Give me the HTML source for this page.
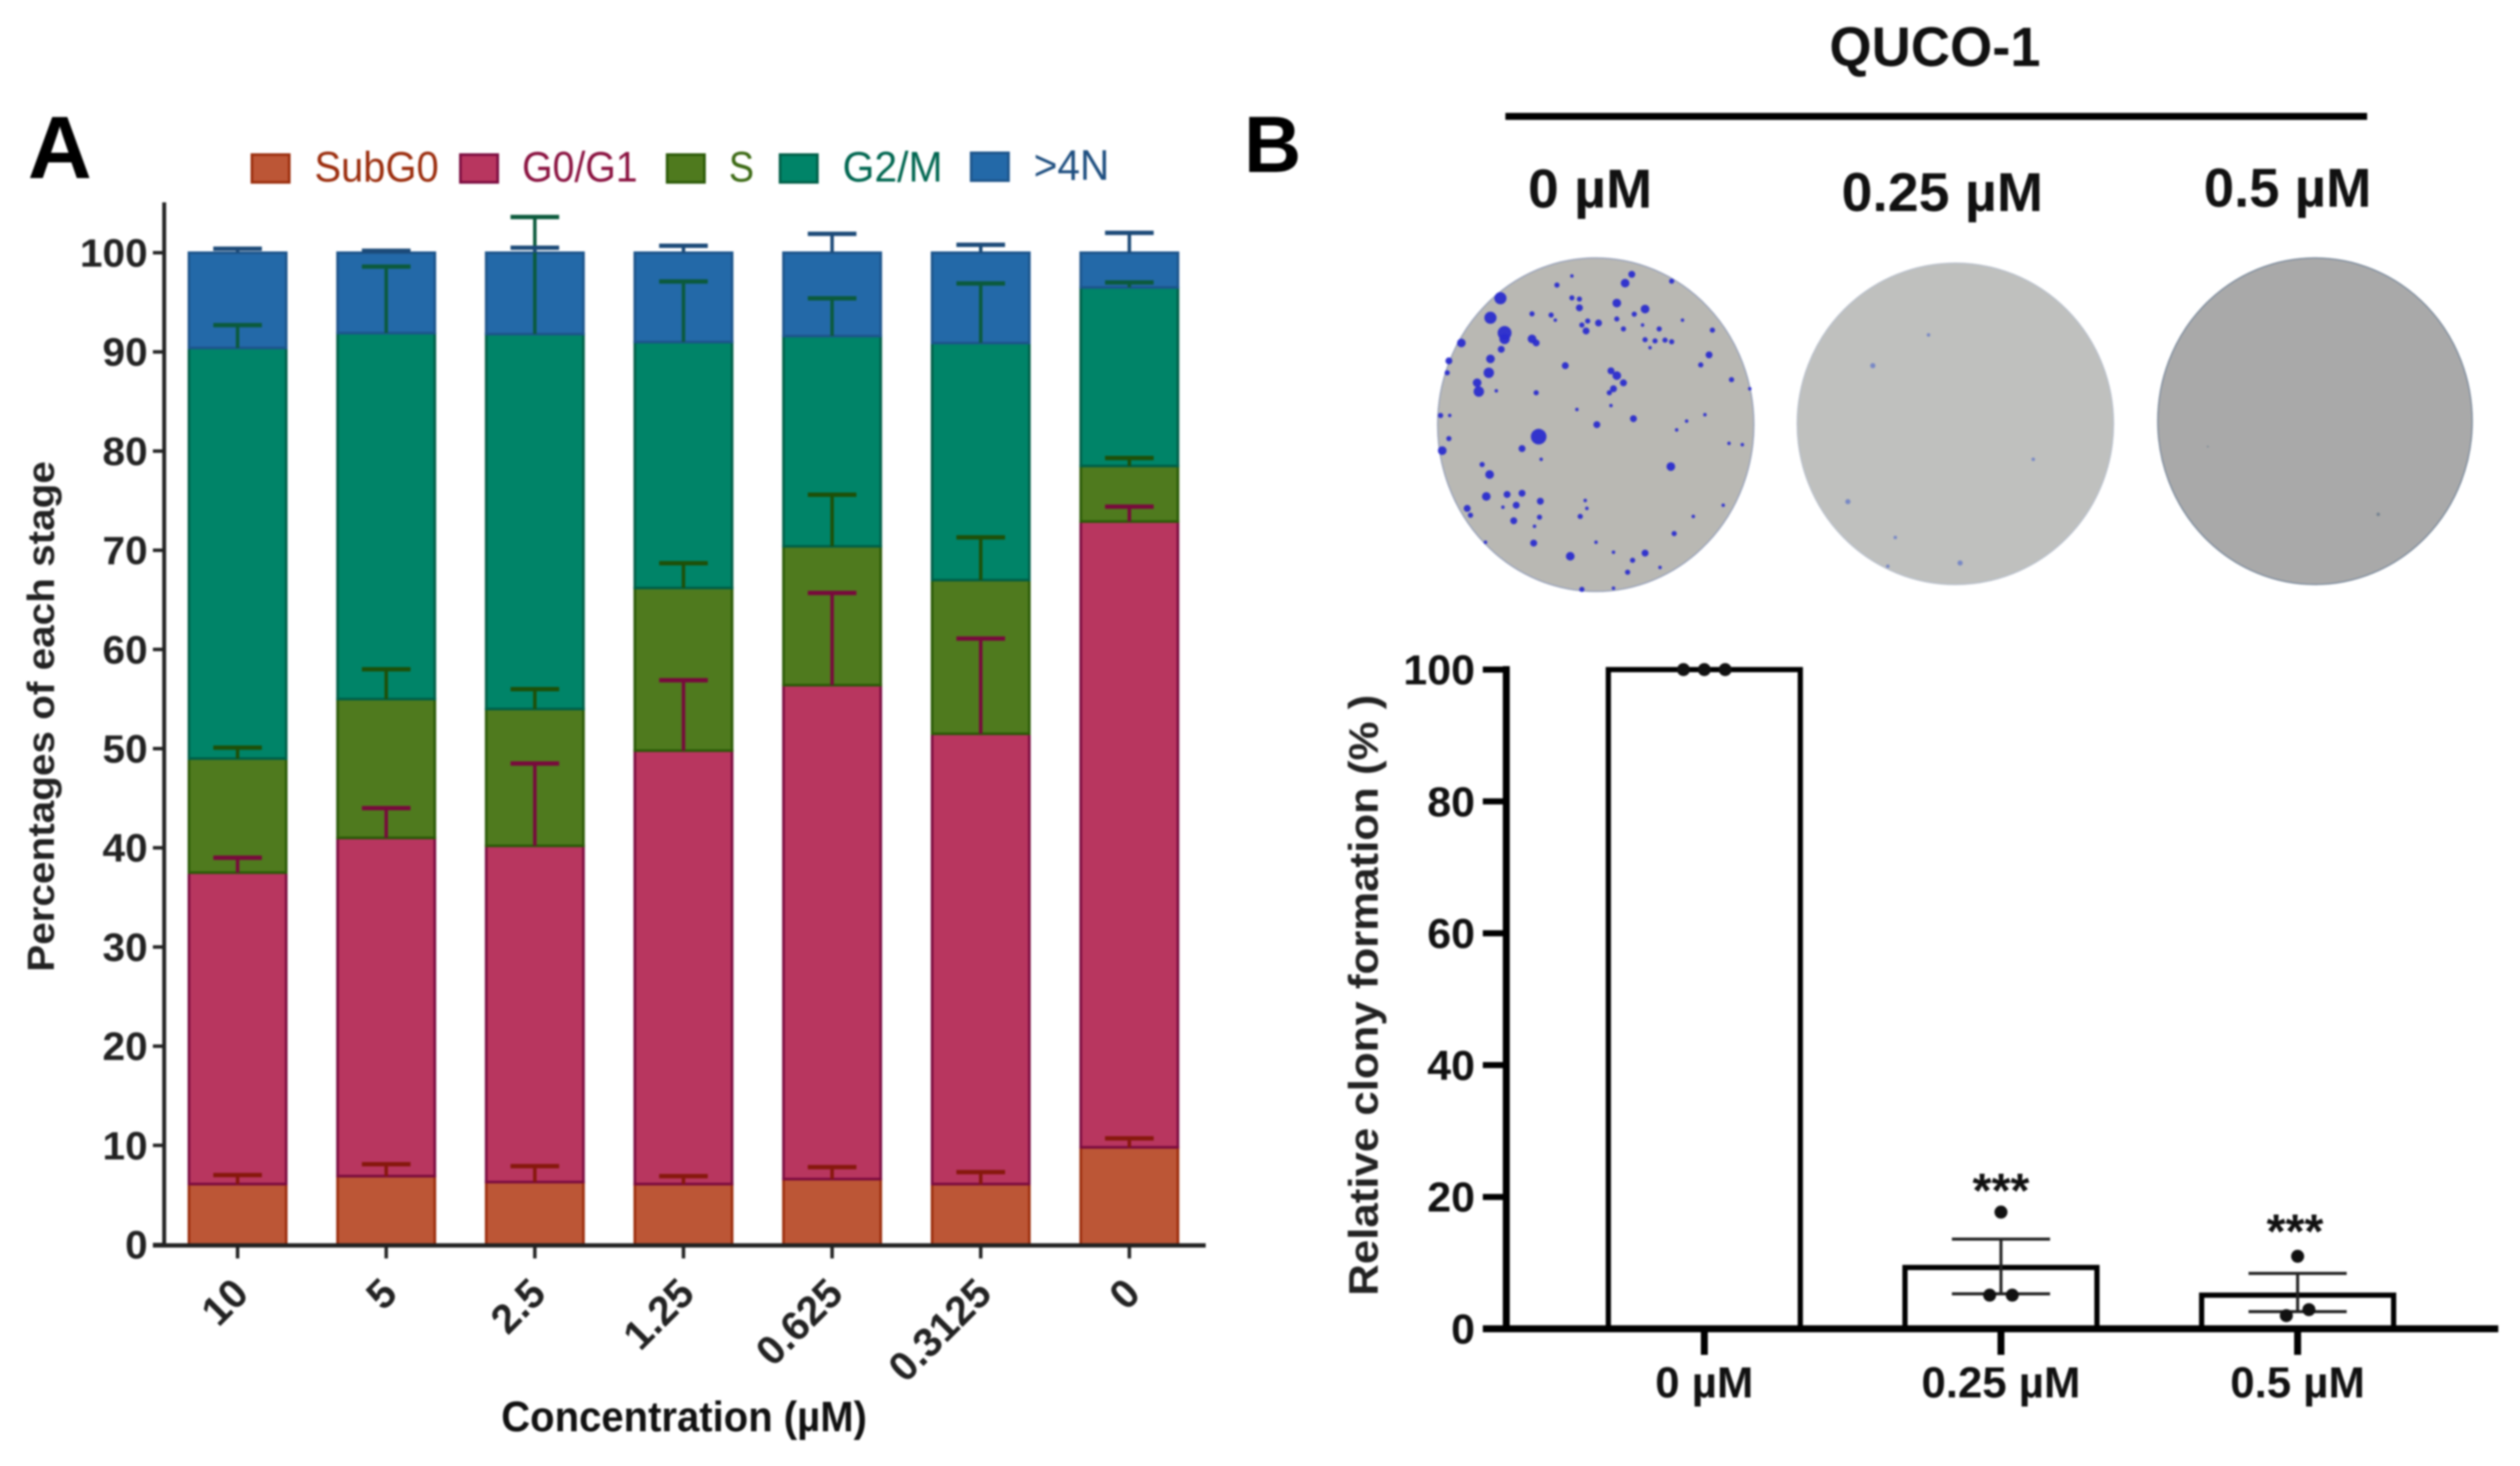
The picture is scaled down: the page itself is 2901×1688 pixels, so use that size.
<!DOCTYPE html>
<html lang="en">
<head>
<meta charset="utf-8">
<title>Cell cycle and colony formation</title>
<style>
html,body{margin:0;padding:0;background:#fff}
svg{display:block;filter:blur(1.1px)}
text{font-family:"Liberation Sans",sans-serif}
</style>
</head>
<body>
<svg id="fig" xmlns="http://www.w3.org/2000/svg" width="2901" height="1688" viewBox="0 0 2901 1688">
  <rect width="2901" height="1688" fill="#fff"/>
  <text x="32" y="205" font-size="102" font-weight="700" fill="#000">A</text>
  <text x="1432" y="198" font-size="92" font-weight="700" textLength="66" lengthAdjust="spacingAndGlyphs" fill="#000">B</text>
  <text x="2106" y="76" font-size="64" font-weight="700" textLength="243" lengthAdjust="spacingAndGlyphs" fill="#111">QUCO-1</text>
  <rect x="1733" y="130" width="992" height="8" fill="#000"/>
  <text x="1759" y="239" font-size="63" font-weight="700" textLength="143" lengthAdjust="spacingAndGlyphs" fill="#111">0 µM</text>
  <text x="2120" y="243" font-size="63" font-weight="700" textLength="232" lengthAdjust="spacingAndGlyphs" fill="#111">0.25 µM</text>
  <text x="2537" y="238" font-size="63" font-weight="700" textLength="193" lengthAdjust="spacingAndGlyphs" fill="#111">0.5 µM</text>
  <ellipse cx="1837" cy="489" rx="182" ry="192" fill="#b9b8b3" stroke="#98a2ba" stroke-width="1.5"/>
  <ellipse cx="2251" cy="488" rx="182" ry="185" fill="#bfc0be" stroke="#b8bfca" stroke-width="1.5"/>
  <ellipse cx="2665" cy="485" rx="181" ry="188" fill="#a9a9a9" stroke="#7b8a9c" stroke-width="1.5"/>
  <g id="colonies"></g>
  <g id="chartA"></g>
  <g id="chartB"></g>
</svg>
<script>
// ---------- Panel A data ----------
const concentrations = ['10','5','2.5','1.25','0.625','0.3125','0'];
const stageNames = ['SubG0','G0/G1','S','G2/M','>4N'];
const subG0Values = [6.1,6.9,6.3,6.1,6.6,6.1,9.8];
const g0g1Values = [31.4,34.1,33.9,43.7,49.8,45.4,63.1];
const sValues = [11.5,14,13.8,16.4,14,15.5,5.6];
const g2mValues = [41.4,36.9,37.8,24.8,21.2,23.9,18];
const n4Values = [9.6,8.1,8.2,9,8.4,9.1,3.5];
const subG0Errors = [0.9,1.2,1.6,0.8,1.2,1.2,0.9];
const g0g1Errors = [1.5,3,8.3,7.1,9.3,9.6,1.5];
const sErrors = [1.1,3,2,2.5,5.2,4.3,0.8];
const g2mErrors = [2.3,6.7,11.8,6.1,3.8,6,0.5];
const n4Errors = [0.4,0.2,0.5,0.7,1.9,0.8,2];
const yTicksA = [0,10,20,30,40,50,60,70,80,90,100];
// ---------- Panel B data ----------
const doseLabels = ['0 µM','0.25 µM','0.5 µM'];
const meanValues = [100,9.3,5.1];
const errorUpper = [100,13.6,8.4];
const errorLower = [100,5.3,2.6];
const replicate1 = [100,17.7,11];
const replicate2 = [100,5.1,2.9];
const replicate3 = [100,5.1,2];
const significance = ['','***','***'];
const yTicksB = [0,20,40,60,80,100];
// ---------- Colonies (plate photo detail) ----------
const dish0Colonies = [[342,748,7],[330,797,7],[347,835,8],[347,850,6],[295,860,5],[380,850,5],[385,860,4],[343,876,4],[330,900,5],[280,905,4],[278,935,3],[328,935,6],[314,960,5],[316,982,6],[337,980,2],[385,985,3],[420,917,4],[475,930,4],[482,942,5],[490,960,4],[478,975,4],[473,985,3],[492,710,5],[500,688,4],[410,715,3],[428,692,2],[428,747,3],[437,750,3],[437,772,4],[482,760,5],[516,775,5],[503,788,3],[482,800,3],[447,805,3],[440,815,3],[460,810,4],[445,830,4],[490,825,3],[533,825,3],[513,815,2],[561,803,2],[597,828,3],[516,852,3],[528,855,3],[540,853,3],[548,857,3],[522,872,2],[593,890,4],[583,915,3],[620,952,3],[642,975,2],[380,787,3],[403,790,3],[408,803,2],[548,705,3],[475,1017,2],[434,1027,2],[502,1050,4],[458,1065,4],[566,1056,2],[588,1040,2],[270,1042,3],[281,1042,2],[388,1095,9],[368,1125,4],[391,1152,2],[280,1100,3],[272,1130,5],[320,1165,3],[329,1190,5],[547,1170,5],[617,1112,2],[633,1115,2],[554,1078,2],[325,1245,5],[350,1240,4],[368,1237,4],[390,1257,4],[361,1267,4],[345,1272,2],[302,1275,4],[306,1292,3],[444,1255,2],[446,1275,2],[438,1295,3],[389,1297,3],[358,1306,4],[383,1320,2],[551,1338,3],[574,1295,2],[610,1267,2],[382,1362,4],[324,1360,2],[457,1360,2],[426,1395,5],[516,1387,4],[501,1405,3],[478,1385,2],[495,1435,3],[534,1423,2],[440,1478,3],[478,1475,2]];
const dish1Colonies = [[790,917,3],[760,1258,3],[895,1412,3],[983,1152,2],[808,1420,2],[817,1348,2],[857,840,2]];
const dish2Colonies = [[1398,1290,2],[1193,1120,1]];

const NS = 'http://www.w3.org/2000/svg';
function make(parent, tag, attrs, txt){
  const el = document.createElementNS(NS, tag);
  for (const k in attrs) el.setAttribute(k, attrs[k]);
  if (txt !== undefined) el.textContent = txt;
  parent.appendChild(el);
  return el;
}
function colonyLayer(list, fill, opacity){
  const g = document.getElementById('colonies');
  list.forEach(function(c){
    const el = make(g, 'circle', {cx:1400+c[0]/1.045, cy:c[1]/2.178, r:c[2], fill:fill, opacity:opacity});
    
    
  });
}
colonyLayer(dish0Colonies, '#2a2ccf', 0.95);
colonyLayer(dish1Colonies, '#5a70c8', 0.7);
colonyLayer(dish2Colonies, '#5f7488', 0.7);

// ---------- Panel A ----------
(function(){
  const root = document.getElementById('chartA');
  const y = function(v){ return 1433 - v * 11.42; };
  const x = function(i){ return 273.5 + i * 171.1; };
  const barW = 112, capW = 56;
  const series = [
    {vals:subG0Values, errs:subG0Errors, fill:'#bc5636', stroke:'#9b2d0d', err:'#86180c', text:'#9b2d0d'},
    {vals:g0g1Values,  errs:g0g1Errors,  fill:'#b8365f', stroke:'#7a0b3f', err:'#780a3c', text:'#8a1240'},
    {vals:sValues,     errs:sErrors,     fill:'#4f7a1e', stroke:'#2b5a07', err:'#1e4f08', text:'#3c6a14'},
    {vals:g2mValues,   errs:g2mErrors,   fill:'#008468', stroke:'#005f48', err:'#0b5a3c', text:'#006650'},
    {vals:n4Values,    errs:n4Errors,    fill:'#2369a8', stroke:'#1d558c', err:'#1c4a78', text:'#1f4f80'}
  ];
  const cum = concentrations.map(function(){ return 0; });
  const tops = [];
  series.forEach(function(s, si){
    tops.push([]);
    s.vals.forEach(function(v, i){
      const b = cum[i], t = b + v;
      const r = make(root, 'rect', {x:x(i)-barW/2, y:y(t), width:barW, height:y(b)-y(t), fill:s.fill, stroke:s.stroke, 'stroke-width':3});
      
      
      cum[i] = t;
      tops[si].push(t);
    });
  });
  series.forEach(function(s, si){
    s.errs.forEach(function(e, i){
      const t = tops[si][i];
      const st = make(root, 'line', {x1:x(i), x2:x(i), y1:y(t), y2:y(t+e), stroke:s.err, 'stroke-width':4});
      
      
      const c = make(root, 'line', {x1:x(i)-capW/2, x2:x(i)+capW/2, y1:y(t+e), y2:y(t+e), stroke:s.err, 'stroke-width':5});
      
      
    });
  });
  const yAxis = make(root, 'line', {x1:189, x2:189, y1:233, y2:1435, stroke:'#222', 'stroke-width':4.5});
  
  
  const xAxis = make(root, 'line', {x1:176, x2:1388, y1:1434, y2:1434, stroke:'#222', 'stroke-width':5});
  
  
  yTicksA.forEach(function(t){
    const m = make(root, 'line', {x1:176, x2:189, y1:y(t), y2:y(t), stroke:'#222', 'stroke-width':4});
    
    
    const s = String(t);
    const l = make(root, 'text', {x:170, y:y(t)+16, 'text-anchor':'end', 'font-size':45, 'font-weight':700, fill:'#222', textLength:s.length*26, lengthAdjust:'spacingAndGlyphs'}, s);
    
    
  });
  concentrations.forEach(function(c, i){
    const m = make(root, 'line', {x1:x(i), x2:x(i), y1:1434, y2:1449, stroke:'#222', 'stroke-width':4});
    
    
    const l = make(root, 'text', {x:0, y:0, 'text-anchor':'end', 'font-size':47, 'font-weight':700, fill:'#222', transform:'translate('+(x(i)+15)+' 1492) rotate(-45)'}, c);
    
    
  });
  const yt = make(root, 'text', {x:0, y:0, 'font-size':44, 'font-weight':700, fill:'#222', 'text-anchor':'middle', textLength:588, lengthAdjust:'spacingAndGlyphs', transform:'translate(62 825) rotate(-90)'}, 'Percentages of each stage');
  
  
  const xt = make(root, 'text', {x:577, y:1648, 'font-size':49, 'font-weight':700, fill:'#111', textLength:421, lengthAdjust:'spacingAndGlyphs'}, 'Concentration (µM)');
  
  
  const sw = [290,530,768,898,1118];
  const tx = [362,601,839,970,1190];
  const tw = [143,133,29,115,87];
  stageNames.forEach(function(n, i){
    const s = series[i];
    const off = i === 4 ? -2 : 0;
    const r = make(root, 'rect', {x:sw[i], y:178+off, width:43, height:32, fill:s.fill, stroke:s.stroke, 'stroke-width':3});
    
    
    const l = make(root, 'text', {x:tx[i], y:209+off, 'font-size':49, fill:s.text, textLength:tw[i], lengthAdjust:'spacingAndGlyphs'}, n);
    
    
  });
})();

// ---------- Panel B ----------
(function(){
  const root = document.getElementById('chartB');
  const y = function(v){ return 1530 - v * 7.59; };
  const x = function(i){ return 1962 + i * 341.5; };
  const barW = 221, capW = 113;
  meanValues.forEach(function(v, i){
    const r = make(root, 'rect', {x:x(i)-barW/2, y:y(v), width:barW, height:y(0)-y(v), fill:'#fff', stroke:'#000', 'stroke-width':6});
    
    
  });
  meanValues.forEach(function(v, i){
    if (errorUpper[i] !== errorLower[i]) {
      const st = make(root, 'line', {x1:x(i), x2:x(i), y1:y(errorUpper[i]), y2:y(errorLower[i]), stroke:'#222', 'stroke-width':3.5});
      
      
      [errorUpper[i], errorLower[i]].forEach(function(e){
        const c = make(root, 'line', {x1:x(i)-capW/2, x2:x(i)+capW/2, y1:y(e), y2:y(e), stroke:'#222', 'stroke-width':3.5});
        
        
      });
    }
    const pts = [[replicate1[i], i===0?-24:0], [replicate2[i], i===0?0:(i===1?-13:13)], [replicate3[i], i===0?24:(i===1?13:-13)]];
    pts.forEach(function(p){
      const d = make(root, 'circle', {cx:x(i)+p[1], cy:y(p[0]), r:7.5, fill:'#111'});
      
      
    });
    if (significance[i]) {
      const s = make(root, 'text', {x:x(i)-(i===1?0:3), y:y(errorUpper[i]) + (i===1?-37:-29), 'text-anchor':'middle', 'font-size':56, 'font-weight':700, fill:'#111'}, significance[i]);
      
      
    }
  });
  const yAxis = make(root, 'line', {x1:1734, x2:1734, y1:767, y2:1534, stroke:'#000', 'stroke-width':8});
  
  
  const xAxis = make(root, 'line', {x1:1707, x2:2876, y1:1530, y2:1530, stroke:'#000', 'stroke-width':8});
  
  
  yTicksB.forEach(function(t){
    const m = make(root, 'line', {x1:1707, x2:1734, y1:y(t), y2:y(t), stroke:'#000', 'stroke-width':7});
    
    
    const s = String(t);
    const l = make(root, 'text', {x:1698, y:y(t)+17, 'text-anchor':'end', 'font-size':48, 'font-weight':700, fill:'#111', textLength:s.length*27.5, lengthAdjust:'spacingAndGlyphs'}, s);
    
    
  });
  const lw = [113,183,155];
  doseLabels.forEach(function(d, i){
    const m = make(root, 'line', {x1:x(i), x2:x(i), y1:1530, y2:1560, stroke:'#000', 'stroke-width':8});
    
    
    const l = make(root, 'text', {x:x(i)-lw[i]/2, y:1609, 'font-size':50, 'font-weight':700, fill:'#111', textLength:lw[i], lengthAdjust:'spacingAndGlyphs'}, d);
    
    
  });
  const yt = make(root, 'text', {x:0, y:0, 'font-size':47, 'font-weight':700, fill:'#222', 'text-anchor':'middle', textLength:692, lengthAdjust:'spacingAndGlyphs', transform:'translate(1586 1146) rotate(-90)'}, 'Relative clony formation (% )');
  
  
})();
</script>
</body>
</html>
